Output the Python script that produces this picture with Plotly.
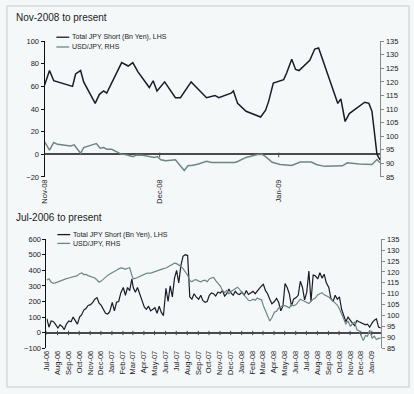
import plotly.graph_objects as go
import pandas as pd

# ---------------- Top panel: Nov-2008 to present ----------------
# x positions read as days since 1 Nov 2008
top_short_day = [0, 1.3, 2.4, 3.4, 7.3, 8.1, 9.4, 10.2, 13.2, 14.3, 15.4, 16.2, 20.1, 21.8, 23.0,
                 24.3, 27.3, 28.3, 29.3, 31.3, 34.1, 35.4, 38.2, 42.2, 44.4, 45.4, 48.6, 49.2, 50.3,
                 52.5, 56.3, 57.6, 58.4, 59.6, 62.3, 63.1, 64.4, 65.4, 66.3, 69.1, 70.4, 71.4, 76.4,
                 77.2, 78.3, 79.4, 83.4, 84.5, 85.3, 86.6, 87.4]
top_short = [61, 74, 65, 64, 60, 71, 74, 64, 45, 53, 56, 54, 81, 78, 81,
             73, 59, 65, 56, 64, 50, 50, 64, 50, 52, 50, 54, 56, 45,
             38, 33, 39, 47, 63, 66, 72, 84, 75, 74, 83, 93, 94, 45,
             49, 29, 36, 46, 45, 38, 0, -5]

top_fx_day = [0, 1.3, 2.4, 3.4, 6.8, 7.7, 9.4, 10.2, 12.8, 13.5, 14.5, 15.4, 16.2, 17.5, 20.0,
              21.3, 23.0, 23.9, 25.6, 27.3, 28.6, 29.4, 30.3, 31.6, 34.1, 35.0, 36.4, 37.4, 38.4,
              40.1, 42.2, 43.5, 48.6, 49.5, 50.3, 52.5, 55.5, 56.6, 57.6, 59.3, 61.4, 64.4, 66.6,
              69.5, 70.8, 73.0, 77.6, 78.9, 81.9, 85.3, 86.6, 87.4]
top_fx = [98.0, 94.9, 97.7, 97.0, 96.4, 96.8, 93.7, 95.8, 97.0, 97.3, 95.6, 95.8, 95.2, 95.2, 93.4,
          93.2, 92.5, 93.1, 93.0, 92.5, 92.2, 92.5, 91.3, 91.0, 91.3, 89.8, 87.4, 89.2, 89.2,
          89.8, 90.8, 90.3, 90.5, 90.3, 90.7, 92.2, 93.3, 93.4, 92.5, 90.4, 89.6, 89.2, 90.5,
          90.5, 89.6, 88.9, 89.1, 90.2, 89.8, 89.6, 91.4, 90.2]

top_ticks = ["2008-11-01", "2008-12-01", "2009-01-01"]

# ---------------- Bottom panel: Jul-2006 to present ----------------
bot_months = ["2006-07", "2006-08", "2006-09", "2006-10", "2006-11", "2006-12",
              "2007-01", "2007-02", "2007-03", "2007-04", "2007-05", "2007-06",
              "2007-07", "2007-08", "2007-09", "2007-10", "2007-11", "2007-12",
              "2008-01", "2008-02", "2008-03", "2008-04", "2008-05", "2008-06",
              "2008-07", "2008-08", "2008-09", "2008-10", "2008-11", "2008-12", "2009-01"]
bot_sample_days = [2, 8, 14, 20, 26]

bot_short = [
    90, 35, 75, 72, 55,      # Jul-06
    30, 50, 40, 20, 55,      # Aug-06
    75, 70, 100, 80, 55,     # Sep-06
    100, 115, 145, 155, 175, # Oct-06
    180, 195, 215, 225, 190, # Nov-06
    175, 145, 125, 120, 135, # Dec-06
    195, 140, 195, 200, 255, # Jan-07
    290, 240, 290, 270, 345, # Feb-07
    290, 260, 290, 250, 200, # Mar-07
    165, 150, 170, 140, 150, # Apr-07
    160, 125, 170, 130, 110, # May-07
    285, 200, 300, 230, 350, # Jun-07
    400, 320, 430, 490, 500, # Jul-07
    495, 230, 215, 250, 230, # Aug-07
    215, 240, 205, 195, 200, # Sep-07
    240, 255, 250, 235, 260, # Oct-07
    255, 270, 235, 250, 280, # Nov-07
    255, 240, 265, 250, 245, # Dec-07
    260, 240, 270, 245, 255, # Jan-08
    265, 250, 270, 285, 300, # Feb-08
    310, 270, 250, 215, 185, # Mar-08
    200, 220, 195, 140, 170, # Apr-08
    315, 290, 250, 170, 215, # May-08
    225, 240, 330, 290, 210, # Jun-08
    260, 395, 200, 370, 365, # Jul-08
    345, 385, 350, 375, 320, # Aug-08
    290, 220, 200, 240, 215, # Sep-08
    230, 150, 110, 70, 100,  # Oct-08
    74, 60, 45, 78, 70,      # Nov-08
    64, 60, 50, 55, 35,      # Dec-08
    63, 80, 88, 36, 30,      # Jan-09
]

bot_fx = [
    116.3, 116.8, 115.4, 114.8, 115.0,  # Jul-06
    115.5, 115.9, 116.3, 116.5, 116.9,  # Aug-06
    117.2, 117.5, 117.8, 118.0, 118.3,  # Sep-06
    119.2, 119.5, 118.8, 118.9, 118.3,  # Oct-06
    118.0, 117.6, 117.2, 116.3, 115.3,  # Nov-06
    115.8, 116.8, 117.8, 118.4, 119.0,  # Dec-06
    119.8, 120.3, 120.8, 121.4, 121.8,  # Jan-07
    121.6, 121.2, 121.7, 121.9, 118.5,  # Feb-07
    116.8, 117.0, 117.5, 117.8, 118.2,  # Mar-07
    118.8, 119.3, 119.5, 119.4, 119.8,  # Apr-07
    120.2, 120.5, 120.8, 121.2, 121.5,  # May-07
    121.8, 122.3, 123.0, 123.5, 124.0,  # Jun-07
    123.8, 123.2, 122.5, 121.5, 120.0,  # Jul-07
    118.5, 116.0, 115.5, 116.3, 116.5,  # Aug-07
    115.8, 115.5, 116.0, 116.2, 115.5,  # Sep-07
    116.8, 117.2, 117.5, 116.0, 115.0,  # Oct-07
    113.5, 111.5, 110.5, 111.5, 110.0,  # Nov-07
    111.0, 111.8, 112.5, 113.0, 112.0,  # Dec-07
    110.5, 109.5, 108.0, 107.0, 106.8,  # Jan-08
    107.5, 107.0, 108.0, 107.5, 107.2,  # Feb-08
    104.5, 102.0, 100.0, 97.5, 99.0,    # Mar-08
    101.5, 102.0, 103.5, 104.0, 104.5,  # Apr-08
    104.5, 104.0, 103.5, 105.0, 104.5,  # May-08
    105.0, 106.5, 107.5, 107.0, 106.5,  # Jun-08
    106.0, 105.5, 106.5, 107.5, 108.0,  # Jul-08
    109.5, 110.0, 110.5, 109.5, 109.2,  # Aug-08
    108.5, 107.5, 106.5, 105.5, 104.8,  # Sep-08
    103.0, 101.0, 98.5, 96.0, 97.5,     # Oct-08
    95.0, 96.4, 97.0, 93.5, 93.0,       # Nov-08
    91.0, 88.5, 90.8, 90.5, 93.3,       # Dec-08
    89.6, 90.5, 89.0, 89.5, 89.6,       # Jan-09
]

# ---------------- build ----------------
top_base = pd.Timestamp("2008-11-01")
top_short_x = [top_base + pd.Timedelta(days=d) for d in top_short_day]
top_fx_x = [top_base + pd.Timedelta(days=d) for d in top_fx_day]
bot_dates = [f"{m}-{d:02d}" for m in bot_months for d in bot_sample_days]
bot_ticks = [f"{m}-01" for m in bot_months]

BLACK = "#1b1b28"
GRAY = "#6f8585"
TXT = "#222222"

fig = go.Figure()
fig.add_trace(go.Scatter(x=top_short_x, y=top_short, mode="lines", name="Total JPY Short (Bn Yen), LHS",
                         line=dict(color=BLACK, width=1.5), xaxis="x", yaxis="y"))
fig.add_trace(go.Scatter(x=top_fx_x, y=top_fx, mode="lines", name="USD/JPY, RHS",
                         line=dict(color=GRAY, width=1.5), xaxis="x", yaxis="y2"))
fig.add_trace(go.Scatter(x=bot_dates, y=bot_short, mode="lines", name="Total JPY Short (Bn Yen), LHS",
                         line=dict(color=BLACK, width=1.2), xaxis="x2", yaxis="y3"))
fig.add_trace(go.Scatter(x=bot_dates, y=bot_fx, mode="lines", name="USD/JPY, RHS",
                         line=dict(color=GRAY, width=1.2), xaxis="x2", yaxis="y4"))

W, H = 414, 394
def px_x(p): return p / W
def px_y(p): return (H - p) / H

left_axis = dict(showline=True, linecolor="#111111", linewidth=1, ticks="outside", ticklen=3,
                 tickcolor="#111111", showgrid=False, zeroline=True, zerolinecolor="#4a4a4a",
                 zerolinewidth=1.5, tickfont=dict(size=7.5, color=TXT))
right_axis = dict(side="right", showline=True, linecolor="#8a8a8a", linewidth=1, ticks="outside",
                  ticklen=3, tickcolor="#8a8a8a", showgrid=False, zeroline=False,
                  tickfont=dict(size=7.5, color=TXT))
x_axis = dict(type="date", dtick="M1", tickformat="%b-%y", tickangle=-90, showgrid=False,
              showline=False, ticks="", zeroline=False, tickfont=dict(size=7.5, color=TXT))

fig.update_layout(
    width=W, height=H, margin=dict(l=0, r=0, t=0, b=0),
    paper_bgcolor="#f5f8f9", plot_bgcolor="rgba(0,0,0,0)",
    showlegend=False,
    font=dict(family="Liberation Sans, Arial, sans-serif", size=8, color=TXT),
    xaxis=dict(x_axis, domain=[px_x(40), px_x(380)], anchor="y", tick0="2008-11-01",
               range=["2008-11-01", "2009-01-27 12:00"]),
    yaxis=dict(left_axis, domain=[px_y(177), px_y(38)], anchor="x", range=[-20, 100], dtick=20),
    yaxis2=dict(right_axis, overlaying="y", anchor="x", range=[85, 135], dtick=5),
    xaxis2=dict(x_axis, domain=[px_x(42), px_x(381)], anchor="y3", tick0="2006-07-01",
                range=["2006-07-01", "2009-01-28"]),
    yaxis3=dict(left_axis, domain=[px_y(352.3), px_y(240.7)], anchor="x2", range=[-100, 600], dtick=100),
    yaxis4=dict(right_axis, overlaying="y3", anchor="x2", range=[85, 135], dtick=5),
)

# titles
fig.add_annotation(text="Nov-2008 to present", xref="paper", yref="paper", x=px_x(9), y=px_y(14),
                   xanchor="left", yanchor="middle", showarrow=False, font=dict(size=10, color=TXT))
fig.add_annotation(text="Jul-2006 to present", xref="paper", yref="paper", x=px_x(9), y=px_y(218),
                   xanchor="left", yanchor="middle", showarrow=False, font=dict(size=10, color=TXT))

# legend keys (text + short line)
legend_rows = [
    ("Total JPY Short (Bn Yen), LHS", BLACK, 52, 65, 34),
    ("USD/JPY, RHS", GRAY, 52, 65, 44),
    ("Total JPY Short (Bn Yen), LHS", BLACK, 53, 66, 236),
    ("USD/JPY, RHS", GRAY, 53, 66, 245),
]
for text, col, x0, x1, yy in legend_rows:
    fig.add_shape(type="line", xref="paper", yref="paper", x0=px_x(x0), x1=px_x(x1),
                  y0=px_y(yy), y1=px_y(yy), line=dict(color=col, width=1.3))
    fig.add_annotation(text=text, xref="paper", yref="paper", x=px_x(x1 + 1), y=px_y(yy),
                       xanchor="left", yanchor="middle", showarrow=False,
                       font=dict(size=7, color=TXT))

# small tick marks on the zero lines
for t in top_ticks:
    fig.add_shape(type="line", xref="x", yref="y", x0=t, x1=t, y0=1.5, y1=-2.6,
                  line=dict(color="#4a4a4a", width=1))
for t in bot_ticks:
    fig.add_shape(type="line", xref="x2", yref="y3", x0=t, x1=t, y0=12, y1=-16,
                  line=dict(color="#4a4a4a", width=1))

# outer frame
fig.add_shape(type="rect", xref="paper", yref="paper", x0=px_x(2), x1=px_x(409),
              y0=px_y(392), y1=px_y(2), line=dict(color="#c4cbce", width=1))

fig.write_html(
    "out.html",
    config={"displayModeBar": False},
    post_script="document.body.style.margin='0';document.body.style.padding='0';"
                "document.body.style.overflow='hidden';",
)
